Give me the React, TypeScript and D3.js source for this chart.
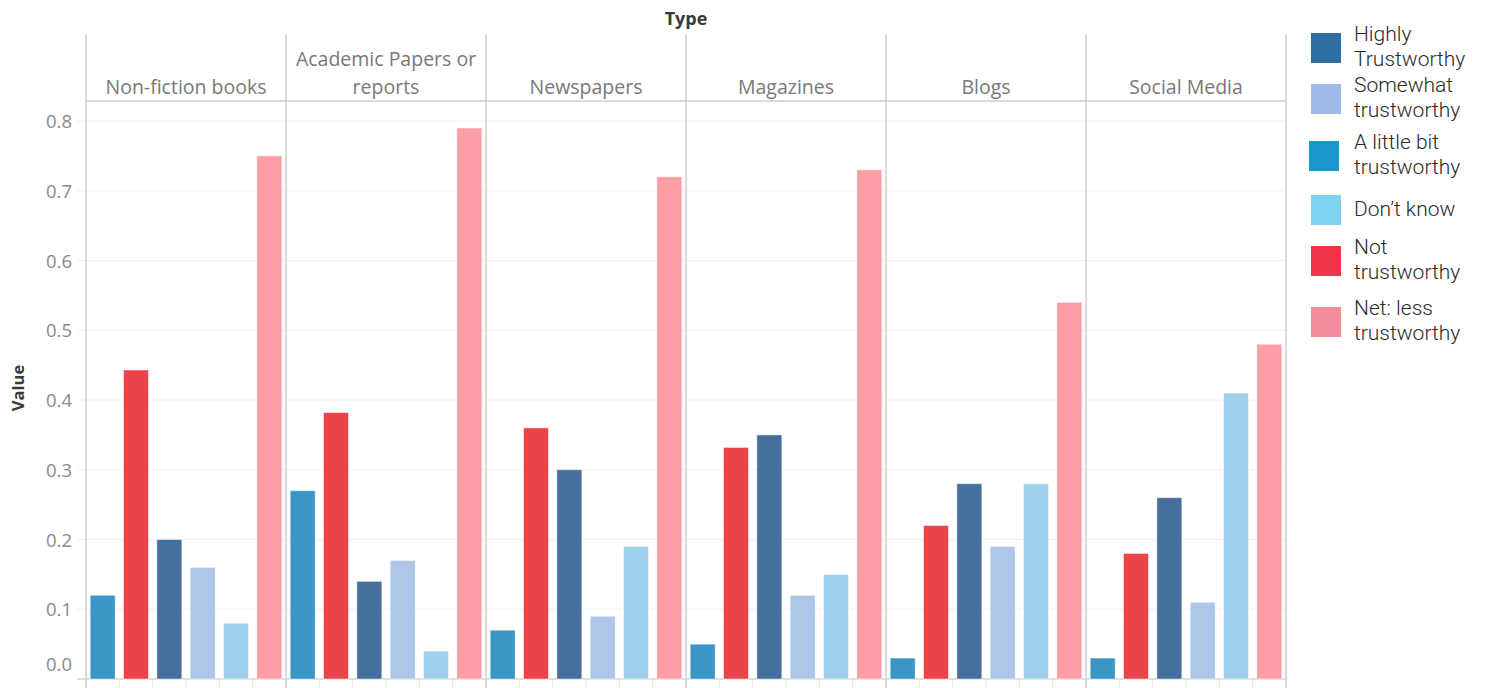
import React from "react";
import * as d3 from "d3";

const types = ["Non-fiction books", "Academic Papers or reports", "Newspapers", "Magazines", "Blogs", "Social Media"];
const typeHeaderLines = [["Non-fiction books"], ["Academic Papers or", "reports"], ["Newspapers"], ["Magazines"], ["Blogs"], ["Social Media"]];
const barOrder = ["A little bit trustworthy", "Not trustworthy", "Highly Trustworthy", "Somewhat trustworthy", "Don't know", "Net: less trustworthy"];

const littleBit = [0.12, 0.27, 0.07, 0.05, 0.03, 0.03];
const notTrust = [0.443, 0.382, 0.36, 0.332, 0.22, 0.18];
const highly = [0.2, 0.14, 0.3, 0.35, 0.28, 0.26];
const somewhat = [0.16, 0.17, 0.09, 0.12, 0.19, 0.11];
const dontKnow = [0.08, 0.04, 0.19, 0.15, 0.28, 0.41];
const netLess = [0.75, 0.79, 0.72, 0.73, 0.54, 0.48];

const yTicks = [0, 0.1, 0.2, 0.3, 0.4, 0.5, 0.6, 0.7, 0.8];

const barColors: Record<string, string> = {
  "A little bit trustworthy": "#3a96c4",
  "Not trustworthy": "#ec434a",
  "Highly Trustworthy": "#466f9d",
  "Somewhat trustworthy": "#aec6e8",
  "Don't know": "#a0d1ec",
  "Net: less trustworthy": "#fd9ea6",
};

const legendItems = [
  { lines: ["Highly", "Trustworthy"], color: "#306ea3" },
  { lines: ["Somewhat", "trustworthy"], color: "#9dbde6" },
  { lines: ["A little bit", "trustworthy"], color: "#1a98cb" },
  { lines: ["Don\u2019t know"], color: "#7fd3f0" },
  { lines: ["Not", "trustworthy"], color: "#ef3446" },
  { lines: ["Net: less", "trustworthy"], color: "#f38d9c" },
];
const legendSwatchY = [33, 84, 141, 195, 246, 307];

const seriesValues: Record<string, number[]> = {
  "A little bit trustworthy": littleBit,
  "Not trustworthy": notTrust,
  "Highly Trustworthy": highly,
  "Somewhat trustworthy": somewhat,
  "Don't know": dontKnow,
  "Net: less trustworthy": netLess,
};

export default function App() {
  const W = 1485, H = 688;
  const left = 86, right = 1286;
  const headerTop = 34, headerBottom = 101;
  const baseline = 679;
  const font = "'Open Sans', sans-serif";

  const y = d3.scaleLinear().domain([0, 0.8]).range([baseline, baseline - 0.8 * 697.5]);
  const xPanel = d3.scaleBand<string>().domain(types).range([left, right]).paddingInner(0).paddingOuter(0);
  const xBar = d3.scaleBand<string>().domain(barOrder).range([0, xPanel.bandwidth()]).paddingInner(0.25).paddingOuter(0.125);
  const slot = xPanel.bandwidth() / barOrder.length;

  return (
    <svg width={W} height={H} style={{ position: "absolute", left: 0, top: 0, background: "#fff" }}>
      {/* gridlines */}
      {yTicks.map((t) => (
        <g key={t}>
          <line x1={77} x2={right} y1={y(t)} y2={y(t)} stroke={t === 0 ? "#d4d4d4" : "#f0f0f0"} strokeWidth={t === 0 ? 1.5 : 1.2} />
          <text x={72} y={t === 0 ? y(t) - 8 : y(t) + 7} textAnchor="end" fontFamily={font} fontSize={18.5} fill="#8a8a8a">
            {t.toFixed(1)}
          </text>
        </g>
      ))}
      {/* bottom slot ticks */}
      {types.map((tp) =>
        barOrder.map((b, i) => (
          <line key={tp + b} x1={xPanel(tp)! + i * slot} x2={xPanel(tp)! + i * slot} y1={baseline + 2} y2={H} stroke="#e6e6e6" strokeWidth={1} />
        ))
      )}
      {/* bars */}
      {types.map((tp, ti) =>
        barOrder.map((b) => {
          const v = seriesValues[b][ti];
          const x0 = xPanel(tp)! + xBar(b)!;
          return (
            <rect
              key={tp + b}
              x={x0}
              y={y(v)}
              width={xBar.bandwidth()}
              height={baseline - y(v)}
              fill={barColors[b]}
              stroke="#ffffff"
              strokeOpacity={0.5}
              strokeWidth={1}
            />
          );
        })
      )}
      {/* header line */}
      <line x1={left} x2={right} y1={headerBottom} y2={headerBottom} stroke="#cfcfcf" strokeWidth={1.5} />
      {/* panel separators */}
      {[...types.map((t) => xPanel(t)!), right].map((x, i) => (
        <line key={i} x1={x} x2={x} y1={headerTop} y2={H} stroke="#cfcfcf" strokeWidth={1.5} />
      ))}
      {/* headers */}
      {types.map((tp, ti) => {
        const lines = typeHeaderLines[ti];
        const cx = xPanel(tp)! + xPanel.bandwidth() / 2;
        return lines.map((ln, li) => (
          <text key={tp + li} x={cx} y={94 - (lines.length - 1 - li) * 28} textAnchor="middle" fontFamily={font} fontSize={19.5} fill="#787878">
            {ln}
          </text>
        ));
      })}
      <text x={686} y={25} textAnchor="middle" fontFamily={font} fontSize={18} fontWeight={700} fill="#3a3a3a">
        Type
      </text>
      <text transform={`translate(24, ${388}) rotate(-90)`} textAnchor="middle" fontFamily={font} fontSize={16.5} fontWeight={700} fill="#3a3a3a">
        Value
      </text>
      {/* legend */}
      {legendItems.map((it, i) => {
        const sy = legendSwatchY[i];
        const cy = sy + 15;
        const n = it.lines.length;
        return (
          <g key={i}>
            <rect x={i === 2 ? 1309 : 1311} y={sy} width={30} height={30} fill={it.color} />
            {it.lines.map((ln, li) => (
              <text key={li} x={1354} y={cy + (li - (n - 1) / 2) * 25 + 5.5} fontFamily="Roboto, sans-serif" fontWeight={300} fontSize={21} fill="#2a2a2a">
                {ln}
              </text>
            ))}
          </g>
        );
      })}
    </svg>
  );
}
